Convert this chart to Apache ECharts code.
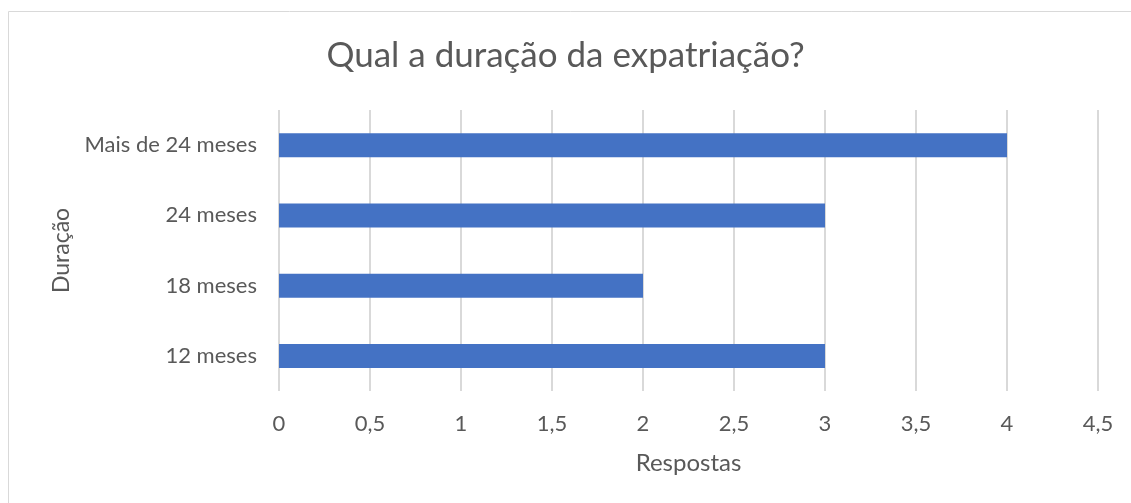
<!DOCTYPE html>
<html>
<head>
<meta charset="utf-8">
<script src="https://cdn.jsdelivr.net/npm/echarts@6/dist/echarts.min.js"></script>
<style>
  html, body { margin: 0; padding: 0; background: #fff; }
  #chart { width: 1131px; height: 503px; }
</style>
</head>
<body>
<div id="chart"></div>
<script>
const categories = ['12 meses', '18 meses', '24 meses', 'Mais de 24 meses'];
const respostas = [3, 2, 3, 4];
const xTicks = { min: 0, max: 4.5, interval: 0.5 };

const font = 'Lato, "Open Sans", sans-serif';
const chart = echarts.init(document.getElementById('chart'));

chart.setOption({
  animation: false,
  textStyle: { fontFamily: font },
  graphic: [
    {
      type: 'rect',
      shape: { x: 8.5, y: 11.5, width: 1200, height: 600 },
      style: { fill: 'none', stroke: '#d9d9d9', lineWidth: 1 },
      silent: true
    }
  ],
  title: {
    text: 'Qual a duração da expatriação?',
    left: 'center',
    top: 33,
    textStyle: { fontFamily: font, fontSize: 35, fontWeight: 'normal', color: '#595959' }
  },
  grid: { left: 279, right: 33, top: 110, bottom: 112 },
  xAxis: {
    type: 'value',
    min: xTicks.min,
    max: xTicks.max,
    interval: xTicks.interval,
    name: 'Respostas',
    nameLocation: 'middle',
    nameGap: 60,
    nameTextStyle: { fontFamily: font, fontSize: 24, color: '#595959' },
    axisLabel: {
      fontFamily: font,
      fontSize: 22,
      color: '#595959',
      margin: 22,
      formatter: v => String(v).replace('.', ',')
    },
    axisLine: { show: false },
    axisTick: { show: false },
    splitLine: { lineStyle: { color: '#d9d9d9', width: 2 } }
  },
  yAxis: {
    type: 'category',
    data: categories,
    name: 'Duração',
    nameLocation: 'middle',
    nameGap: 205,
    nameRotate: 90,
    nameTextStyle: { fontFamily: font, fontSize: 23, color: '#595959' },
    axisLabel: { fontFamily: font, fontSize: 22, color: '#595959', margin: 22 },
    axisLine: { show: false },
    axisTick: { show: false },
    splitLine: { show: false }
  },
  series: [
    {
      type: 'bar',
      data: respostas,
      barWidth: 24,
      itemStyle: { color: '#4472c4' }
    }
  ]
});
</script>
</body>
</html>
